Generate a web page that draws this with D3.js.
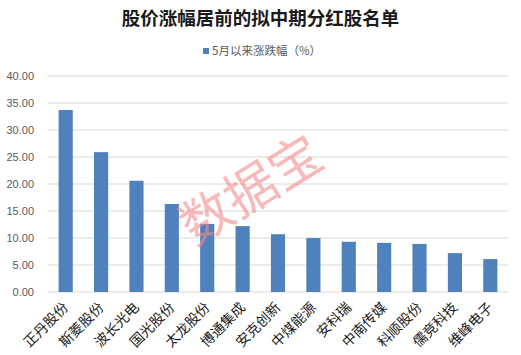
<!DOCTYPE html>
<html>
<head>
<meta charset="utf-8">
<script src="https://cdn.jsdelivr.net/npm/d3@7"></script>
<style>
  body { margin: 0; background: #fff; }
  svg { display: block; font-family: "Noto Sans CJK SC", "Noto Sans", sans-serif; }
</style>
</head>
<body>
<div id="chart"></div>
<script>
const stocks = ['正丹股份', '斯菱股份', '波长光电', '国光股份', '太龙股份', '博通集成', '安克创新',
    '中煤能源', '安科瑞', '中南传媒', '科顺股份', '儒竞科技', '维峰电子'];
const changePct = [33.7, 25.9, 20.6, 16.3, 12.6, 12.2, 10.7, 10.0, 9.3, 9.1, 8.9, 7.2, 6.1];
const yTicks = [0, 5, 10, 15, 20, 25, 30, 35, 40];
const seriesName = '5月以来涨跌幅（%）';
const title = '股价涨幅居前的拟中期分红股名单';

const W = 521, H = 355;
const margin = { top: 76, right: 13, bottom: 63, left: 48 };
const width = W - margin.left - margin.right;
const height = H - margin.top - margin.bottom;

const svg = d3.select('#chart').append('svg')
    .attr('width', W)
    .attr('height', H);

svg.append('text')
    .attr('x', W / 2)
    .attr('y', 25)
    .attr('text-anchor', 'middle')
    .attr('font-size', 18.5)
    .attr('font-weight', 'bold')
    .attr('fill', '#1a1a1a')
    .text(title);

// legend
const legend = svg.append('g').attr('transform', 'translate(203,48)');
legend.append('rect').attr('width', 6).attr('height', 6).attr('fill', '#4f81bd');
legend.append('text')
    .attr('x', 9).attr('y', 7)
    .attr('font-size', 11.5)
    .attr('fill', '#595959')
    .text(seriesName);

const g = svg.append('g').attr('transform', `translate(${margin.left},${margin.top})`);

const x = d3.scaleBand().domain(stocks).range([0, width]).paddingInner(0.6).paddingOuter(0.3);
const y = d3.scaleLinear().domain([0, 40]).range([height, 0]);

// gridlines
g.selectAll('.grid')
    .data(yTicks)
    .enter().append('line')
    .attr('x1', 0).attr('x2', width)
    .attr('y1', d => y(d)).attr('y2', d => y(d))
    .attr('stroke', '#d9d9d9')
    .attr('stroke-width', 1);

const yAxis = g.append('g')
    .call(d3.axisLeft(y).tickValues(yTicks).tickFormat(d3.format('.2f')).tickSize(0).tickPadding(14));
yAxis.select('.domain').remove();
yAxis.selectAll('text').attr('font-size', 11).attr('fill', '#595959')
    .attr('font-family', '"Liberation Sans", Arial, sans-serif');

g.selectAll('.bar')
    .data(stocks)
    .enter().append('rect')
    .attr('x', d => x(d))
    .attr('width', x.bandwidth())
    .attr('y', (d, i) => y(changePct[i]))
    .attr('height', (d, i) => height - y(changePct[i]))
    .attr('fill', '#4f81bd');

// category labels
g.selectAll('.cat')
    .data(stocks)
    .enter().append('text')
    .attr('text-anchor', 'end')
    .attr('font-size', 14)
    .attr('fill', '#1a1a1a')
    .attr('transform', d => `translate(${x(d) + x.bandwidth() / 2},${height + 13}) rotate(-45)`)
    .attr('dy', '0.35em')
    .text(d => d);

// watermark
svg.append('text')
    .attr('transform', 'translate(251,190) rotate(-32)')
    .attr('text-anchor', 'middle')
    .attr('dy', '0.35em')
    .attr('font-size', 52)
    .attr('fill', '#f28b8b')
    .attr('opacity', 0.6)
    .text('数据宝');
</script>
</body>
</html>
